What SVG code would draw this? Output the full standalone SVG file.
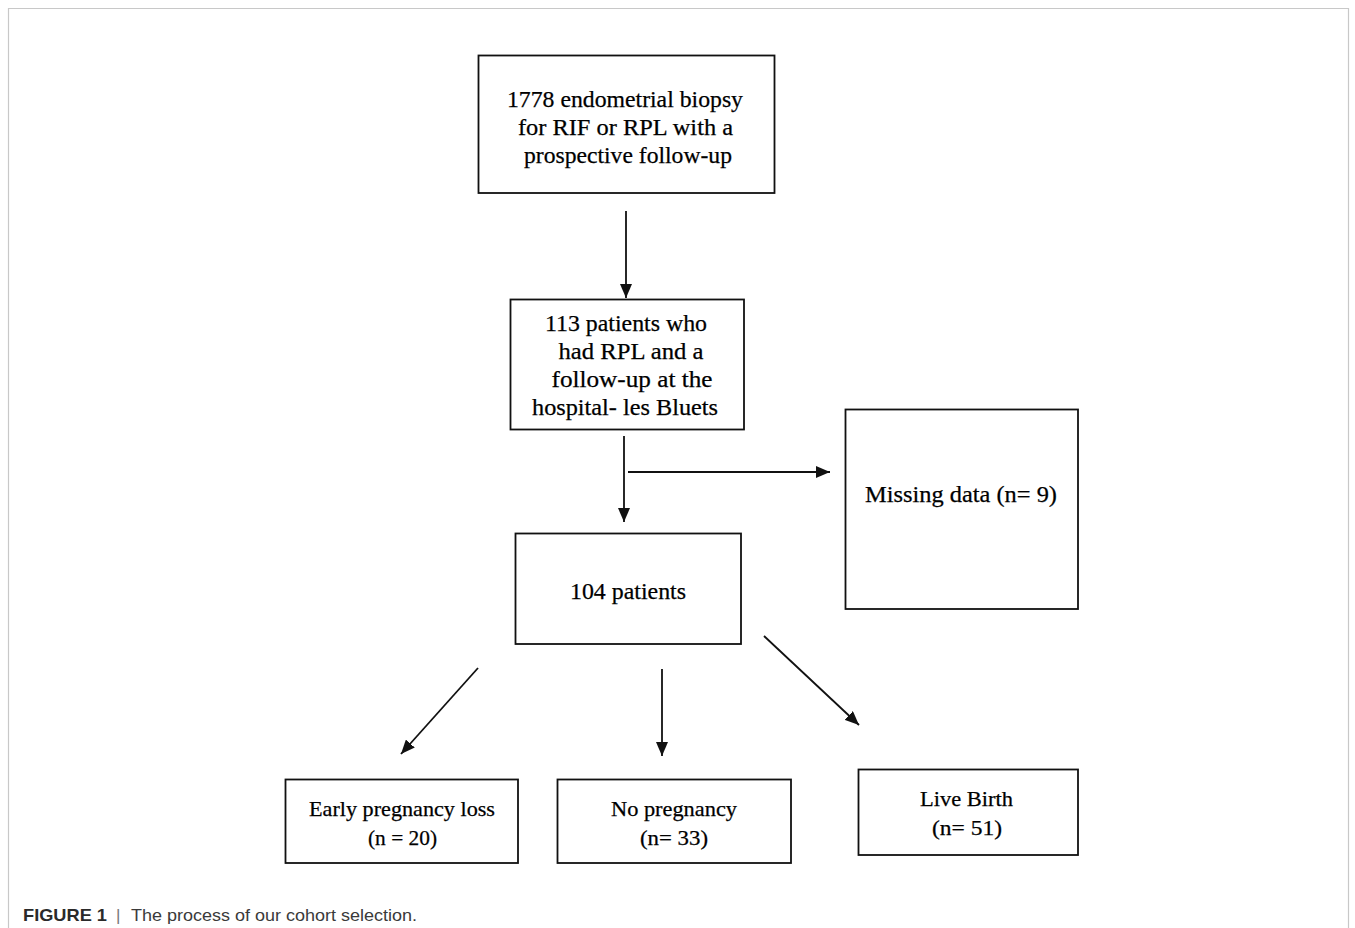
<svg xmlns="http://www.w3.org/2000/svg" width="1355" height="928" viewBox="0 0 1355 928">
<style>
.box{fill:#fff;stroke:#111;stroke-width:1.8}
.t{font-family:"Liberation Serif","Times New Roman",serif;fill:#000;stroke:#000;stroke-width:0.25;text-anchor:middle}
.t1{font-size:23.5px}
.t2{font-size:21.5px}
.conn line{stroke:#111;stroke-width:1.8;fill:none}
.cap{font-family:"Liberation Sans",Arial,sans-serif;font-size:17px}
</style>
<defs>
<marker id="ah" markerUnits="userSpaceOnUse" markerWidth="14" markerHeight="12" refX="14" refY="6" orient="auto">
<path d="M0,0 L14,6 L0,12 z" fill="#111"/>
</marker>
</defs>
<rect width="1355" height="928" fill="#fff"/>
<path d="M8.5,928 V8.5 H1348.5 V928" fill="none" stroke="#c8c8c8" stroke-width="1.2"/>

<g id="n1">
<rect class="box" x="478.5" y="55.5" width="296" height="137.5"/>
<text class="t t1" x="625" y="107" textLength="236" lengthAdjust="spacingAndGlyphs">1778 endometrial biopsy</text>
<text class="t t1" x="625.5" y="135" textLength="215" lengthAdjust="spacingAndGlyphs">for RIF or RPL with a</text>
<text class="t t1" x="628" y="163" textLength="208" lengthAdjust="spacingAndGlyphs">prospective follow-up</text>
</g>

<g id="n2">
<rect class="box" x="510.5" y="299.5" width="233.5" height="130"/>
<text class="t t1" x="626" y="331" textLength="162" lengthAdjust="spacingAndGlyphs">113 patients who</text>
<text class="t t1" x="631" y="359" textLength="145" lengthAdjust="spacingAndGlyphs">had RPL and a</text>
<text class="t t1" x="632" y="387" textLength="161" lengthAdjust="spacingAndGlyphs">follow-up at the</text>
<text class="t t1" x="625" y="415" textLength="186" lengthAdjust="spacingAndGlyphs">hospital- les Bluets</text>
</g>

<g id="n3">
<rect class="box" x="845.5" y="409.5" width="232.5" height="199.5"/>
<text class="t t1" x="961" y="502" textLength="192" lengthAdjust="spacingAndGlyphs">Missing data (n= 9)</text>
</g>

<g id="n4">
<rect class="box" x="515.5" y="533.5" width="225.5" height="110.5"/>
<text class="t t1" x="628" y="599" textLength="116" lengthAdjust="spacingAndGlyphs">104 patients</text>
</g>

<g id="n5">
<rect class="box" x="285.5" y="779.5" width="232.5" height="83.5"/>
<text class="t t2" x="402" y="816" textLength="186" lengthAdjust="spacingAndGlyphs">Early pregnancy loss</text>
<text class="t t2" x="402.5" y="845" textLength="69" lengthAdjust="spacingAndGlyphs">(n = 20)</text>
</g>

<g id="n6">
<rect class="box" x="557.5" y="779.5" width="233.5" height="83.5"/>
<text class="t t2" x="674" y="816" textLength="126" lengthAdjust="spacingAndGlyphs">No pregnancy</text>
<text class="t t2" x="674" y="845" textLength="68" lengthAdjust="spacingAndGlyphs">(n= 33)</text>
</g>

<g id="n7">
<rect class="box" x="858.5" y="769.5" width="219.5" height="85.5"/>
<text class="t t2" x="966.5" y="806" textLength="93" lengthAdjust="spacingAndGlyphs">Live Birth</text>
<text class="t t2" x="967" y="835" textLength="70" lengthAdjust="spacingAndGlyphs">(n= 51)</text>
</g>

<g id="connectors" class="conn">
<line x1="626" y1="211" x2="626" y2="298" marker-end="url(#ah)"/>
<line x1="624" y1="436" x2="624" y2="522" marker-end="url(#ah)"/>
<line x1="628" y1="472" x2="830" y2="472" marker-end="url(#ah)"/>
<line x1="478" y1="668" x2="401" y2="754" marker-end="url(#ah)"/>
<line x1="662" y1="669" x2="662" y2="756" marker-end="url(#ah)"/>
<line x1="764" y1="636" x2="859" y2="725" marker-end="url(#ah)"/>
</g>

<g id="caption">
<text class="cap" x="23" y="921" font-weight="bold" fill="#2a2a2a" textLength="84" lengthAdjust="spacingAndGlyphs">FIGURE 1</text>
<text class="cap" x="116" y="921" fill="#777">|</text>
<text class="cap" x="131" y="921" fill="#3a3a3a" textLength="286" lengthAdjust="spacingAndGlyphs">The process of our cohort selection.</text>
</g>
</svg>
